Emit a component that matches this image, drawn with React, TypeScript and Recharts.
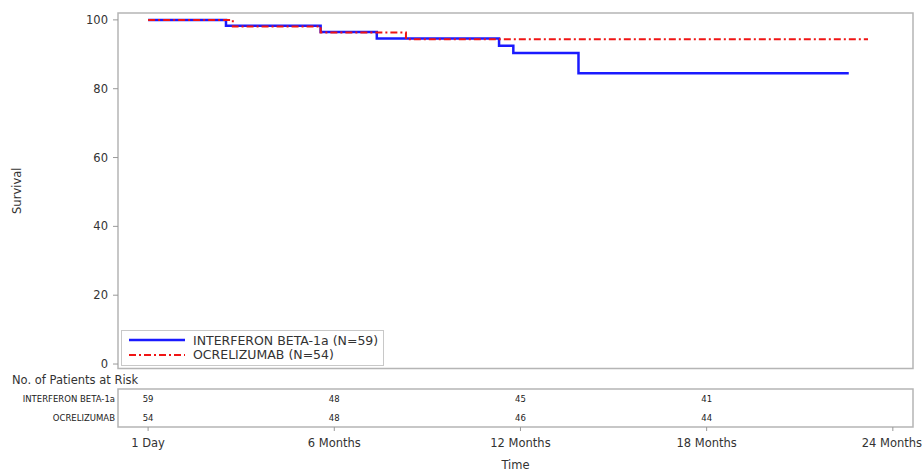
import React from 'react';
import {
  LineChart, Line, XAxis, YAxis, ReferenceArea, Legend,
  ScatterChart, Scatter, LabelList,
} from 'recharts';

// survival curves (time in months, survival %)
const ifnTime = [0, 2.51, 5.56, 7.37, 11.31, 11.77, 13.87, 22.58];
const ifnSurv = [100, 98.3, 96.5, 94.6, 92.5, 90.4, 84.5, 84.5];
const ocrTime = [0, 2.73, 5.56, 8.31, 23.2];
const ocrSurv = [100, 98.1, 96.3, 94.4, 94.4];

// axis ticks
const timeTicks = [0, 6, 12, 18, 24];
const timeLabels = ['1 Day', '6 Months', '12 Months', '18 Months', '24 Months'];
const survTicks = [0, 20, 40, 60, 80, 100];

// number at risk table
const riskRows = ['INTERFERON BETA-1a', 'OCRELIZUMAB'];
const riskTimes = [0, 6, 12, 18];
const ifnRisk = [59, 48, 45, 41];
const ocrRisk = [54, 48, 46, 44];

const seriesNames = ['INTERFERON BETA-1a (N=59)', 'OCRELIZUMAB (N=54)'];

const X_DOMAIN: [number, number] = [-0.97, 24.65];
const Y_DOMAIN: [number, number] = [-1.3, 102];
const FONT = '"DejaVu Sans", sans-serif';
const BLUE = '#1a1aff';
const RED = '#f01414';
const RED_DASH = '7 3 2 3';

const ifnData = ifnTime.map((t, i) => ({ t, s: ifnSurv[i] }));
const ocrData = ocrTime.map((t, i) => ({ t, s: ocrSurv[i] }));
const riskData = [
  ...riskTimes.map((t, i) => ({ t, row: 0.5, n: ifnRisk[i] })),
  ...riskTimes.map((t, i) => ({ t, row: 1.5, n: ocrRisk[i] })),
];

const legendItems = [
  { name: seriesNames[0], color: BLUE, dash: undefined, width: 2.5 },
  { name: seriesNames[1], color: RED, dash: RED_DASH, width: 2 },
];

function LegendBox() {
  return (
    <div style={{ border: '1px solid #c8c8c8', background: '#fff', padding: '2px 5px 3px 6px', fontFamily: FONT, fontSize: 12.5, color: '#333' }}>
      {legendItems.map((it) => (
        <div key={it.name} style={{ display: 'flex', alignItems: 'center', height: 14.5 }}>
          <svg width={58} height={8} style={{ marginRight: 7 }}>
            <line x1={1} y1={4} x2={57} y2={4} stroke={it.color} strokeWidth={it.width} strokeDasharray={it.dash} />
          </svg>
          <span>{it.name}</span>
        </div>
      ))}
    </div>
  );
}

const EmptyShape = () => <g />;

export default function App() {
  return (
    <div style={{ position: 'absolute', left: 0, top: 0, width: 922, height: 473, background: '#fff', fontFamily: FONT }}>
      <LineChart width={922} height={375} margin={{ top: 13, right: 9, bottom: 6.5, left: 8 }}>
        <XAxis type="number" dataKey="t" domain={X_DOMAIN} allowDataOverflow hide />
        <YAxis
          type="number"
          domain={Y_DOMAIN}
          ticks={survTicks}
          allowDataOverflow
          width={110}
          axisLine={false}
          tickSize={5}
          tickMargin={5}
          tickLine={{ stroke: '#999' }}
          tick={{ fill: '#333', fontSize: 11.5, fontFamily: FONT }}
          label={{ value: 'Survival', angle: -90, position: 'insideLeft', offset: 9, style: { fill: '#333', fontSize: 11.5, fontFamily: FONT, textAnchor: 'middle' } }}
        />
        <ReferenceArea x1={X_DOMAIN[0]} x2={X_DOMAIN[1]} y1={Y_DOMAIN[0]} y2={Y_DOMAIN[1]} fill="none" stroke="#b5b5b5" strokeWidth={1.5} />
        <Line data={ifnData} dataKey="s" type="stepAfter" stroke={BLUE} strokeWidth={2.5} dot={false} isAnimationActive={false} name={seriesNames[0]} />
        <Line data={ocrData} dataKey="s" type="stepAfter" stroke={RED} strokeWidth={2} strokeDasharray={RED_DASH} dot={false} isAnimationActive={false} name={seriesNames[1]} />
        <Legend
          layout="vertical"
          verticalAlign="middle"
          align="center"
          content={() => <LegendBox />}
          wrapperStyle={{ left: 121, top: 330, width: 'auto' }}
        />
      </LineChart>
      <div style={{ position: 'absolute', left: 12, top: 373, fontSize: 11.5, color: '#333', whiteSpace: 'nowrap' }}>
        No. of Patients at Risk
      </div>
      <ScatterChart width={922} height={98} margin={{ top: 14, right: 9, bottom: 0, left: 8 }}>
        <XAxis
          type="number"
          dataKey="t"
          domain={X_DOMAIN}
          ticks={timeTicks}
          allowDataOverflow
          height={46}
          axisLine={false}
          tickSize={4}
          tickMargin={8}
          tickLine={{ stroke: '#999' }}
          tickFormatter={(v: number) => timeLabels[timeTicks.indexOf(v)]}
          tick={{ fill: '#333', fontSize: 11.5, fontFamily: FONT }}
          label={{ value: 'Time', position: 'insideBottom', offset: 4, style: { fill: '#333', fontSize: 11.5, fontFamily: FONT } }}
        />
        <YAxis
          type="number"
          dataKey="row"
          domain={[0, 2]}
          ticks={[0.5, 1.5]}
          reversed
          width={110}
          axisLine={false}
          tickLine={false}
          tickSize={0}
          tickMargin={3}
          tickFormatter={(v: number) => riskRows[Math.floor(v)]}
          tick={{ fill: '#222', fontSize: 8.5, fontFamily: FONT }}
        />
        <ReferenceArea x1={X_DOMAIN[0]} x2={X_DOMAIN[1]} y1={0} y2={2} fill="none" stroke="#b5b5b5" strokeWidth={1.5} />
        <Scatter data={riskData} shape={EmptyShape} isAnimationActive={false}>
          <LabelList dataKey="n" position="center" style={{ fill: '#222', fontSize: 8.5, fontFamily: FONT }} />
        </Scatter>
      </ScatterChart>
    </div>
  );
}
